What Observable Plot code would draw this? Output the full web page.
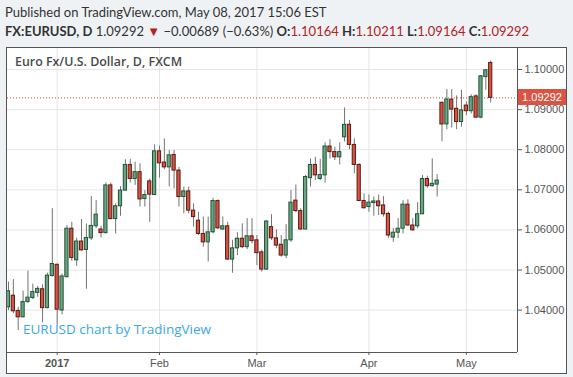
<!DOCTYPE html>
<html><head><meta charset="utf-8">
<script src="https://cdn.jsdelivr.net/npm/d3@7"></script>
<script src="https://cdn.jsdelivr.net/npm/@observablehq/plot@0.6"></script>
<style>
html,body{margin:0;padding:0;}
body{background:#eff2f5;width:573px;height:377px;overflow:hidden;position:relative;font-family:Lato,"Open Sans",sans-serif;color:#333;}
.hd{position:absolute;left:5px;font-size:13px;white-space:nowrap;}
#h1{top:4px;}
#h2{top:23px;}
#h2 b{font-weight:700;}
.rd{color:#b22222;}
#frame{position:absolute;left:6px;top:47px;width:561px;height:327px;border:1px solid #555;box-sizing:border-box;background:#fff;overflow:hidden;}
#title{position:absolute;left:8px;top:5px;font-family:"Open Sans",sans-serif;font-weight:600;font-size:12.4px;color:#4a4a4a;white-space:nowrap;}
#wm{position:absolute;left:16px;top:272px;font-family:"Open Sans",sans-serif;font-size:13.5px;color:#3aa8ea;white-space:nowrap;}
#price{position:absolute;left:511px;width:48px;height:16px;background:#dc5343;color:#fff;font-family:"Liberation Sans",Arial,sans-serif;font-size:11px;line-height:16px;text-align:center;}
</style></head>
<body>
<div id="h1" class="hd">Published on TradingView.com, May 08, 2017 15:06 EST</div>
<div id="h2" class="hd"><b>FX:EURUSD, D</b> 1.09292 <span class="rd">▼</span> −0.00689 (−0.63%) <b>O:</b><span class="rd">1.10164</span> <b>H:</b><span class="rd">1.10211</span> <b>L:</b><span class="rd">1.09164</span> <b>C:</b><span class="rd">1.09292</span></div>
<div id="frame"></div>
<script>
const dates = [
"2016-12-19","2016-12-20","2016-12-21","2016-12-22","2016-12-23","2016-12-26","2016-12-27","2016-12-28","2016-12-29","2016-12-30",
"2017-01-03","2017-01-04","2017-01-05","2017-01-06","2017-01-09","2017-01-10","2017-01-11","2017-01-12","2017-01-13",
"2017-01-16","2017-01-17","2017-01-18","2017-01-19","2017-01-20","2017-01-23","2017-01-24","2017-01-25","2017-01-26","2017-01-27","2017-01-30","2017-01-31",
"2017-02-01","2017-02-02","2017-02-03","2017-02-06","2017-02-07","2017-02-08","2017-02-09","2017-02-10","2017-02-13","2017-02-14","2017-02-15","2017-02-16","2017-02-17",
"2017-02-20","2017-02-21","2017-02-22","2017-02-23","2017-02-24","2017-02-27","2017-02-28",
"2017-03-01","2017-03-02","2017-03-03","2017-03-06","2017-03-07","2017-03-08","2017-03-09","2017-03-10","2017-03-13","2017-03-14","2017-03-15","2017-03-16","2017-03-17",
"2017-03-20","2017-03-21","2017-03-22","2017-03-23","2017-03-24","2017-03-27","2017-03-28","2017-03-29","2017-03-30","2017-03-31",
"2017-04-03","2017-04-04","2017-04-05","2017-04-06","2017-04-07","2017-04-10","2017-04-11","2017-04-12","2017-04-13","2017-04-14",
"2017-04-17","2017-04-18","2017-04-19","2017-04-20","2017-04-21","2017-04-24","2017-04-25","2017-04-26","2017-04-27","2017-04-28",
"2017-05-01","2017-05-02","2017-05-03","2017-05-04","2017-05-05","2017-05-08"];
const open = [1.0407,1.0436,1.0398,1.0382,1.0420,1.0430,1.0443,1.0452,1.0405,1.0485,
1.0513,1.0399,1.0482,1.0603,1.0524,1.0571,1.0550,1.0579,1.0609,1.0601,1.0592,1.0711,1.0627,1.0659,1.0698,1.0762,1.0727,1.0744,1.0677,1.0721,1.0687,
1.0796,1.0768,1.0756,1.0787,1.0748,1.0682,1.0696,1.0648,1.0623,1.0590,1.0569,1.0594,1.0672,1.0601,1.0609,1.0526,1.0554,1.0578,1.0557,1.0584,
1.0574,1.0544,1.0501,1.0607,1.0579,1.0563,1.0536,1.0574,1.0673,1.0647,1.0601,1.0729,1.0762,1.0727,1.0736,1.0808,1.0794,1.0781,1.0831,1.0862,1.0812,1.0762,1.0672,
1.0657,1.0667,1.0671,1.0661,1.0640,1.0581,1.0593,1.0603,1.0663,1.0611,1.0609,1.0639,1.0727,1.0709,1.0713,1.0917,1.0863,1.0925,1.0902,1.0869,
1.0910,1.0896,1.0933,1.0880,1.0981,1.10164];
const high = [1.0470,1.0476,1.0407,1.0447,1.0497,1.0465,1.0459,1.0463,1.0492,1.0653,
1.0515,1.0490,1.0611,1.0619,1.0579,1.0626,1.0615,1.0683,1.0673,1.0609,1.0717,1.0717,1.0665,1.0708,1.0775,1.0776,1.0769,1.0765,1.0698,1.0727,1.0812,
1.0809,1.0827,1.0798,1.0798,1.0756,1.0707,1.0707,1.0665,1.0644,1.0632,1.0632,1.0679,1.0675,1.0632,1.0619,1.0574,1.0593,1.0615,1.0628,1.0628,
1.0586,1.0549,1.0623,1.0638,1.0600,1.0586,1.0613,1.0698,1.0712,1.0653,1.0736,1.0777,1.0781,1.0776,1.0817,1.0825,1.0806,1.0817,1.0904,1.0873,1.0827,1.0765,1.0690,
1.0687,1.0682,1.0687,1.0683,1.0644,1.0604,1.0628,1.0673,1.0675,1.0628,1.0668,1.0736,1.0734,1.0777,1.0738,1.0919,1.0950,1.0950,1.0934,1.0948,
1.0919,1.0937,1.0937,1.0985,1.1000,1.10211];
const low = [1.0399,1.0391,1.0349,1.0381,1.0417,1.0426,1.0432,1.0368,1.0403,1.0482,
1.0362,1.0388,1.0481,1.0522,1.0509,1.0547,1.0452,1.0574,1.0603,1.0580,1.0590,1.0625,1.0590,1.0634,1.0697,1.0717,1.0711,1.0657,1.0657,1.0619,1.0686,
1.0729,1.0750,1.0707,1.0702,1.0657,1.0640,1.0640,1.0607,1.0586,1.0557,1.0520,1.0590,1.0601,1.0599,1.0524,1.0492,1.0536,1.0553,1.0551,1.0565,
1.0511,1.0495,1.0499,1.0574,1.0553,1.0532,1.0528,1.0569,1.0643,1.0599,1.0600,1.0707,1.0723,1.0723,1.0717,1.0777,1.0773,1.0762,1.0819,1.0800,1.0740,1.0671,1.0652,
1.0644,1.0634,1.0636,1.0632,1.0579,1.0569,1.0578,1.0590,1.0609,1.0597,1.0603,1.0638,1.0704,1.0707,1.0682,1.0820,1.0850,1.0854,1.0850,1.0856,
1.0885,1.0889,1.0879,1.0877,1.0948,1.09164];
const close = [1.0447,1.0397,1.0382,1.0420,1.0431,1.0445,1.0453,1.0405,1.0486,1.0515,
1.0401,1.0484,1.0603,1.0530,1.0571,1.0549,1.0580,1.0610,1.0638,1.0592,1.0711,1.0627,1.0659,1.0698,1.0762,1.0727,1.0744,1.0676,1.0687,1.0688,1.0796,
1.0766,1.0756,1.0786,1.0748,1.0682,1.0696,1.0648,1.0632,1.0590,1.0569,1.0594,1.0672,1.0604,1.0609,1.0526,1.0554,1.0578,1.0557,1.0584,1.0572,
1.0542,1.0501,1.0621,1.0579,1.0561,1.0536,1.0574,1.0668,1.0647,1.0601,1.0732,1.0762,1.0736,1.0737,1.0808,1.0794,1.0781,1.0794,1.0862,1.0812,1.0762,1.0672,1.0654,
1.0668,1.0671,1.0659,1.0639,1.0586,1.0593,1.0603,1.0663,1.0611,1.0599,1.0639,1.0727,1.0709,1.0715,1.0723,1.0863,1.0925,1.0900,1.0869,1.0898,
1.0896,1.0931,1.0880,1.0983,1.09981,1.09292];
const yTicks = [1.04,1.05,1.06,1.07,1.08,1.09,1.10];
const monthLabels = ["2017","Feb","Mar","Apr","May"];
const lastClose = close[close.length-1];

const candles = dates.map((d,i)=>({i, date:d, open:open[i], high:high[i], low:low[i], close:close[i], up: close[i]>=open[i]}));
const monthStarts = candles.filter((c,k)=>k>0 && c.date.slice(5,7)!==candles[k-1].date.slice(5,7)).map(c=>c.i);
const labelOf = new Map(monthStarts.map((m,k)=>[m, monthLabels[k]]));
const xDomain = [-0.2, 104.5];
const yDomain = [1.02943, 1.10524];

const chart = Plot.plot({
  width:559, height:325, marginLeft:0, marginTop:0, marginRight:49, marginBottom:21,
  x:{type:"linear", domain:xDomain, label:null},
  y:{domain:yDomain, label:null},
  style:{background:"transparent", color:"#555", fontFamily:"'Liberation Sans', Arial, sans-serif", overflow:"visible"},
  marks:[
    Plot.gridY(yTicks,{stroke:"#e6e6e6",strokeOpacity:1}),
    Plot.gridX(monthStarts,{stroke:"#e6e6e6",strokeOpacity:1}),
    Plot.ruleY([lastClose],{stroke:"#e0402f",strokeDasharray:"1,2"}),
    Plot.ruleX(candles,{x:"i",y1:"low",y2:"high",stroke:"#737375"}),
    Plot.rect(candles,{x1:d=>d.i-0.33,x2:d=>d.i+0.33,y1:"open",y2:"close",
      fill:d=>d.up?"#6ba583":"#d75442", stroke:d=>d.up?"#225437":"#5b1a13"}),
    Plot.ruleX([xDomain[1]],{stroke:"#555"}),
    Plot.ruleY([yDomain[0]],{stroke:"#555"}),
    Plot.axisY(yTicks,{anchor:"right",label:null,tickFormat:d3.format(".5f"),tickSize:4,tickPadding:3,fontSize:11}),
    Plot.axisX(monthStarts.slice(1),{label:null,tickFormat:d=>labelOf.get(d),tickSize:3,tickPadding:4,fontSize:11}),
    Plot.axisX(monthStarts.slice(0,1),{label:null,tickFormat:d=>labelOf.get(d),tickSize:3,tickPadding:4,fontSize:11,fontWeight:"bold"})
  ]
});
const frame = document.getElementById("frame");
frame.appendChild(chart);
chart.style.position="absolute"; chart.style.left="0px"; chart.style.top="0px";
const t = document.createElement("div"); t.id="title"; t.textContent="Euro Fx/U.S. Dollar, D, FXCM"; frame.appendChild(t);
const w = document.createElement("div"); w.id="wm"; w.textContent="EURUSD chart by TradingView"; frame.appendChild(w);
const p = document.createElement("div"); p.id="price"; p.textContent=d3.format(".5f")(lastClose);
p.style.top = (chart.scale("y").apply(lastClose) - 8) + "px";
frame.appendChild(p);
</script>
</body></html>
